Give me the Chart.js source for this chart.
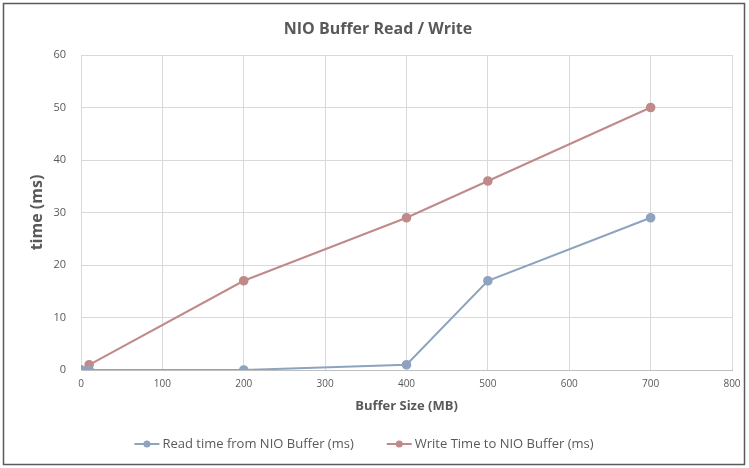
<!DOCTYPE html>
<html><head><meta charset="utf-8">
<script src="https://cdn.jsdelivr.net/npm/chart.js@4/dist/chart.umd.min.js"></script>
<style>html,body{margin:0;padding:0;background:#fff;}#wrap{width:749px;height:468px;}</style>
</head><body><div id="wrap"><canvas id="c" width="749" height="468"></canvas></div>
<script>
const bufferSizes = [0, 10, 200, 400, 500, 700];
const readTimes = [0, 0, 0, 1, 17, 29];
const writeTimes = [0, 1, 17, 29, 36, 50];
const seriesNames = ['Read time from NIO Buffer (ms)', 'Write Time to NIO Buffer (ms)'];
const READ_COLOR = '#8EA3BE';
const WRITE_COLOR = '#BF8A89';
const TEXT_COLOR = '#595959';
const FONT = "'Open Sans', 'Liberation Sans', sans-serif";

const borderPlugin = {
  id: 'outerBorder',
  afterDraw(chart) {
    const ctx = chart.ctx;
    ctx.save();
    ctx.strokeStyle = '#5a5a5a';
    ctx.lineWidth = 1.5;
    ctx.strokeRect(3.5, 3.5, 741, 461);
    ctx.restore();
  }
};

// Excel-style legend: line with a dot, then the series name
const lineLegendPlugin = {
  id: 'lineLegend',
  afterDraw(chart) {
    const ctx = chart.ctx;
    const lineLen = 25, gapText = 3, gapItem = 33, cy = 444, centerX = 364;
    ctx.save();
    ctx.font = '13px ' + FONT;
    const items = chart.data.datasets.map(d => ({label: d.label, color: d.borderColor, w: ctx.measureText(d.label).width}));
    let total = 0;
    items.forEach((it, i) => { total += lineLen + gapText + it.w + (i < items.length - 1 ? gapItem : 0); });
    let x = centerX - total / 2;
    items.forEach(it => {
      ctx.strokeStyle = it.color; ctx.lineWidth = 2;
      ctx.beginPath(); ctx.moveTo(x, cy); ctx.lineTo(x + lineLen, cy); ctx.stroke();
      ctx.fillStyle = it.color;
      ctx.beginPath(); ctx.arc(x + lineLen / 2, cy, 3.5, 0, Math.PI * 2); ctx.fill();
      ctx.fillStyle = TEXT_COLOR; ctx.textBaseline = 'middle'; ctx.textAlign = 'left';
      ctx.fillText(it.label, x + lineLen + gapText, cy);
      x += lineLen + gapText + it.w + gapItem;
    });
    ctx.restore();
  }
};

const toPts = (ys) => bufferSizes.map((x, i) => ({x: x, y: ys[i]}));

new Chart(document.getElementById('c'), {
  type: 'scatter',
  data: {
    datasets: [
      {label: seriesNames[0], data: toPts(readTimes), showLine: true, borderColor: READ_COLOR, backgroundColor: READ_COLOR,
       borderWidth: 2, pointRadius: 3.8, pointHoverRadius: 3.8, pointStyle: 'circle', tension: 0},
      {label: seriesNames[1], data: toPts(writeTimes), showLine: true, borderColor: WRITE_COLOR, backgroundColor: WRITE_COLOR,
       borderWidth: 2, pointRadius: 3.8, pointHoverRadius: 3.8, pointStyle: 'circle', tension: 0}
    ]
  },
  options: {
    responsive: false,
    animation: false,
    layout: {padding: {left: 24, right: 17, top: 0, bottom: 63.5}},
    plugins: {
      title: {display: true, text: 'NIO Buffer Read / Write', color: TEXT_COLOR,
        font: {family: FONT, size: 16, weight: 'bold'}, padding: {top: 20, bottom: 15.8}},
      legend: {display: false},
      tooltip: {enabled: false}
    },
    scales: {
      x: {type: 'linear', min: 0, max: 800,
        ticks: {stepSize: 100, color: TEXT_COLOR, font: {family: FONT, size: 10}, padding: 8},
        grid: {color: '#D9D9D9', drawTicks: false}, border: {color: '#BFBFBF'},
        title: {display: true, text: 'Buffer Size (MB)', color: TEXT_COLOR, font: {family: FONT, size: 13, weight: 'bold'}, padding: {top: 0, bottom: -9.3}},
        afterFit(s) { s.height = 34.5; }},
      y: {min: 0, max: 60,
        ticks: {stepSize: 10, color: TEXT_COLOR, font: {family: FONT, size: 11}, padding: 15},
        grid: {color: '#D9D9D9', drawTicks: false}, border: {color: '#D9D9D9'},
        title: {display: true, text: 'time (ms)', color: TEXT_COLOR, font: {family: FONT, size: 16, weight: 'bold'}},
        afterFit(s) { s.width = 57; }}
    }
  },
  plugins: [borderPlugin, lineLegendPlugin]
});
</script></body></html>
